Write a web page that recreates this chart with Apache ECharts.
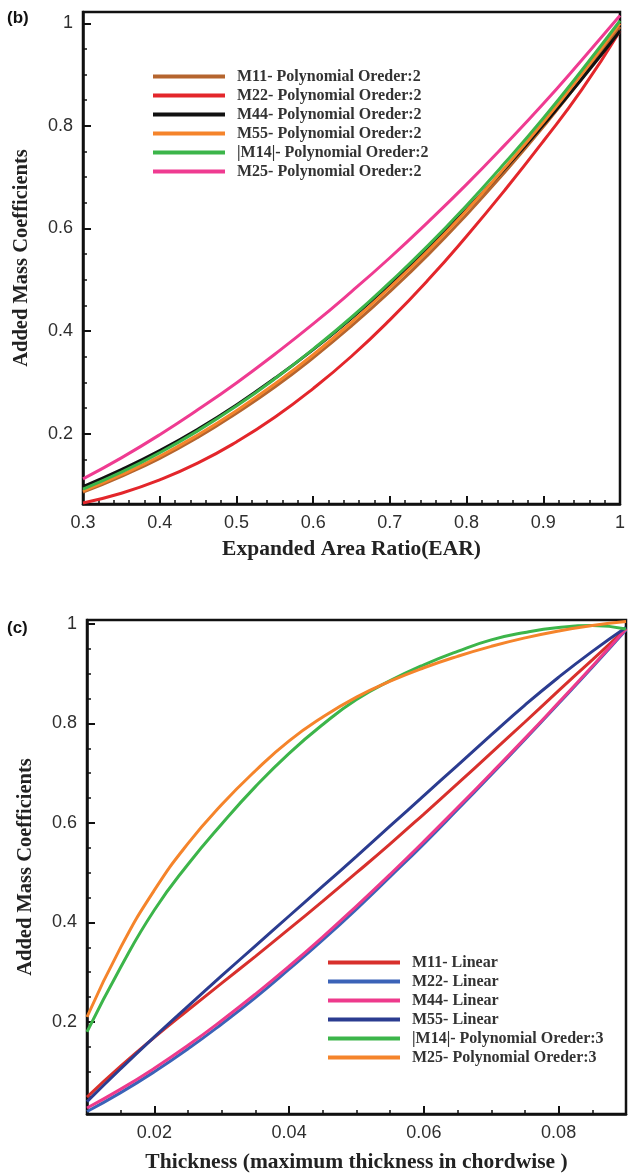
<!DOCTYPE html>
<html>
<head>
<meta charset="utf-8">
<script src="https://cdn.jsdelivr.net/npm/echarts@6/dist/echarts.min.js"></script>
<style>
  html, body { margin: 0; padding: 0; background: #fff; }
  #chart { width: 628px; height: 1175px; }
</style>
</head>
<body>
<div id="chart"></div>
<script>
// (b) added mass coefficients vs expanded area ratio
const earX = [0.3, 0.35, 0.4, 0.45, 0.5, 0.55, 0.6, 0.65, 0.7, 0.75, 0.8, 0.85, 0.9, 0.95, 1.0]
const earM11 = [0.086, 0.117, 0.152, 0.193, 0.240, 0.291, 0.348, 0.410, 0.477, 0.549, 0.627, 0.710, 0.798, 0.892, 0.993]
const earM22 = [0.065, 0.084, 0.110, 0.143, 0.184, 0.232, 0.288, 0.351, 0.422, 0.500, 0.585, 0.675, 0.770, 0.870, 0.985]
const earM44 = [0.097, 0.130, 0.167, 0.209, 0.256, 0.308, 0.364, 0.425, 0.491, 0.562, 0.637, 0.717, 0.802, 0.891, 0.985]
const earM55 = [0.088, 0.120, 0.156, 0.198, 0.245, 0.297, 0.354, 0.417, 0.485, 0.557, 0.635, 0.719, 0.807, 0.901, 1.000]
const earM14 = [0.092, 0.125, 0.163, 0.206, 0.254, 0.307, 0.365, 0.427, 0.495, 0.567, 0.645, 0.728, 0.815, 0.908, 1.005]
const earM25 = [0.112, 0.153, 0.198, 0.247, 0.299, 0.355, 0.414, 0.477, 0.543, 0.613, 0.686, 0.763, 0.843, 0.928, 1.015]
const earNames = [
  'M11- Polynomial Oreder:2', 'M22- Polynomial Oreder:2', 'M44- Polynomial Oreder:2',
  'M55- Polynomial Oreder:2', '|M14|- Polynomial Oreder:2', 'M25- Polynomial Oreder:2'
]
const earColors = ['#b5652e', '#e3262b', '#111111', '#f5842b', '#3cb54a', '#ef3b91']
const earTicks = [0.3, 0.4, 0.5, 0.6, 0.7, 0.8, 0.9, 1]
const earMinor = [0.32, 0.34, 0.36, 0.38, 0.42, 0.44, 0.46, 0.48, 0.52, 0.54, 0.56, 0.58, 0.62, 0.64, 0.66, 0.68,
  0.72, 0.74, 0.76, 0.78, 0.82, 0.84, 0.86, 0.88, 0.92, 0.94, 0.96, 0.98]
const coefTicks = [0.2, 0.4, 0.6, 0.8, 1]
const coefMinorB = [0.1, 0.15, 0.25, 0.3, 0.35, 0.45, 0.5, 0.55, 0.65, 0.7, 0.75, 0.85, 0.9, 0.95]

// (c) added mass coefficients vs thickness
const thickX = [0.01, 0.015, 0.02, 0.025, 0.03, 0.035, 0.04, 0.045, 0.05, 0.055, 0.06, 0.065, 0.07, 0.075, 0.08, 0.085, 0.09]
const thM11 = [0.049, 0.111, 0.169, 0.224, 0.278, 0.332, 0.387, 0.443, 0.500, 0.558, 0.618, 0.679, 0.741, 0.803, 0.866, 0.928, 0.990]
const thM22 = [0.020, 0.058, 0.100, 0.146, 0.196, 0.249, 0.306, 0.365, 0.427, 0.492, 0.558, 0.627, 0.697, 0.768, 0.840, 0.913, 0.988]
const thM44 = [0.027, 0.065, 0.107, 0.153, 0.203, 0.256, 0.312, 0.371, 0.433, 0.497, 0.563, 0.631, 0.700, 0.770, 0.842, 0.915, 0.990]
const thM55 = [0.040, 0.106, 0.170, 0.232, 0.293, 0.353, 0.413, 0.473, 0.533, 0.594, 0.655, 0.716, 0.777, 0.837, 0.893, 0.945, 0.993]
const thM14 = [0.180, 0.310, 0.425, 0.517, 0.598, 0.673, 0.740, 0.798, 0.848, 0.886, 0.918, 0.945, 0.968, 0.983, 0.993, 0.997, 0.990]
const thM25 = [0.210, 0.350, 0.465, 0.559, 0.637, 0.705, 0.765, 0.813, 0.853, 0.885, 0.912, 0.935, 0.955, 0.972, 0.986, 0.997, 1.005]
const thNames = [
  'M11- Linear', 'M22- Linear', 'M44- Linear', 'M55- Linear',
  '|M14|- Polynomial Oreder:3', 'M25- Polynomial Oreder:3'
]
const thColors = ['#d8302c', '#3b63b8', '#ee3a8c', '#2b3c90', '#3cb54a', '#f5842b']
const thickTicks = [0.02, 0.04, 0.06, 0.08]
const thickMinor = [0.015, 0.025, 0.03, 0.035, 0.045, 0.05, 0.055, 0.065, 0.07, 0.075, 0.085]
const coefMinorC = [0.05, 0.1, 0.15, 0.25, 0.3, 0.35, 0.45, 0.5, 0.55, 0.65, 0.7, 0.75, 0.85, 0.9, 0.95]

const ink = '#111'
const labelFont = { fontFamily: 'Liberation Sans, Arial, sans-serif', fontSize: 18, color: '#2e2e2e' }
const serif = 'Liberation Serif, Times New Roman, serif'
const xTitleFont = { fontFamily: serif, fontWeight: 'bold', fontSize: 21.5, color: '#222' }
const yTitleFont = { fontFamily: serif, fontWeight: 'bold', fontSize: 20.5, color: '#222' }

// axis carrying line, major ticks and labels
const majorAxis = (gridIndex, min, max, ticks, position, name, nameGap, nameTextStyle) => ({
  type: 'value', gridIndex, min, max, position,
  name, nameLocation: 'middle', nameGap, nameTextStyle,
  axisLine: { show: true, onZero: false, lineStyle: { color: ink, width: 2.5 } },
  axisTick: { show: true, inside: true, length: 8, customValues: ticks, lineStyle: { color: ink, width: 2 } },
  axisLabel: Object.assign({ show: true, customValues: ticks, margin: 10 }, labelFont),
  splitLine: { show: false }
})
// invisible axis only for the short ticks
const minorAxis = (gridIndex, min, max, ticks, position) => ({
  type: 'value', gridIndex, min, max, position,
  axisLine: { show: false },
  axisTick: { show: true, inside: true, length: 4, customValues: ticks, lineStyle: { color: ink, width: 1.5 } },
  axisLabel: { show: false },
  splitLine: { show: false }
})

const line = (name, xs, ys, color, axisIndex) => ({
  type: 'line', name, smooth: true, symbol: 'none', showSymbol: false,
  xAxisIndex: axisIndex, yAxisIndex: axisIndex,
  data: xs.map((x, i) => [x, ys[i]]),
  lineStyle: { color, width: 3 }, itemStyle: { color },
  emphasis: { disabled: true }
})

const earSeries = [earM11, earM22, earM44, earM55, earM14, earM25]
  .map((ys, i) => line(earNames[i], earX, ys, earColors[i], 0))
const thSeries = [thM11, thM22, thM44, thM55, thM14, thM25]
  .map((ys, i) => line(thNames[i], thickX, ys, thColors[i], 2))

const legendStyle = {
  orient: 'vertical', itemWidth: 72, itemHeight: 4, itemGap: 0, icon: 'rect',
  selectedMode: false,
  textStyle: { fontFamily: serif, fontWeight: 'bold', fontSize: 16, color: '#333', lineHeight: 19, padding: [0, 0, 0, 7] }
}

const option = {
  animation: false,
  backgroundColor: '#fff',
  grid: [
    { left: 83, right: 2, top: 12, bottom: 671, show: true, borderColor: ink, borderWidth: 2.5 },
    { left: 87, right: 2, top: 620, bottom: 61, show: true, borderColor: ink, borderWidth: 2.5 }
  ],
  xAxis: [
    majorAxis(0, 0.3, 1, earTicks, 'bottom', 'Expanded Area Ratio(EAR)', 34, xTitleFont),
    minorAxis(0, 0.3, 1, earMinor, 'bottom'),
    majorAxis(1, 0.01, 0.09, thickTicks, 'bottom', 'Thickness (maximum thickness in chordwise )', 37, xTitleFont),
    minorAxis(1, 0.01, 0.09, thickMinor, 'bottom')
  ],
  yAxis: [
    majorAxis(0, 0.063, 1.022, coefTicks, 'left', 'Added Mass Coefficients', 51, yTitleFont),
    minorAxis(0, 0.063, 1.022, coefMinorB, 'left'),
    majorAxis(1, 0.015, 1.008, coefTicks, 'left', 'Added Mass Coefficients', 51, yTitleFont),
    minorAxis(1, 0.015, 1.008, coefMinorC, 'left')
  ],
  legend: [
    Object.assign({ data: earNames, left: 148, top: 62 }, legendStyle),
    Object.assign({ data: thNames, left: 323, top: 948 }, legendStyle)
  ],
  graphic: [
    { type: 'text', left: 7, top: 10, style: { text: '(b)', font: 'bold 17px Liberation Sans, Arial, sans-serif', fill: '#111' } },
    { type: 'text', left: 7, top: 620, style: { text: '(c)', font: 'bold 17px Liberation Sans, Arial, sans-serif', fill: '#111' } }
  ],
  series: earSeries.concat(thSeries)
}

const myChart = echarts.init(document.getElementById('chart'))
myChart.setOption(option)
</script>
</body>
</html>
